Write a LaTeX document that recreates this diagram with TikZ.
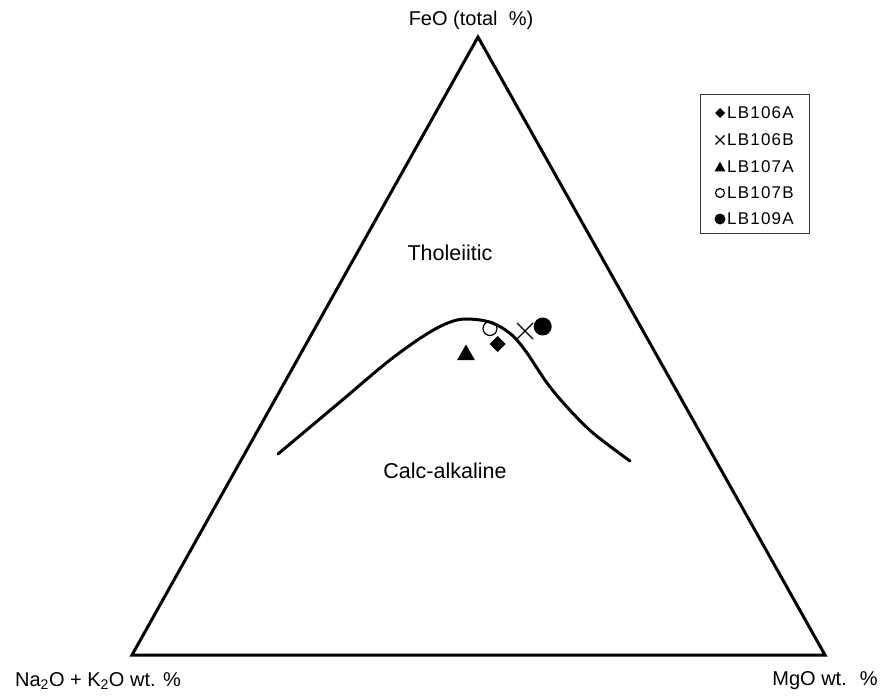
\documentclass[tikz,border=0pt]{standalone}
\usepackage{fontspec}
\setmainfont{Liberation Sans}
\newfontfamily\legfont[LetterSpace=7]{Liberation Sans}
\tikzset{
  axlabel/.style={font=\fontsize{20}{24}\selectfont, inner sep=0pt},
  fieldlabel/.style={font=\fontsize{21.5}{25}\selectfont, inner sep=0pt},
  legtext/.style={font=\legfont\fontsize{17}{20}\selectfont, inner sep=0pt, anchor=west},
  frame/.style={line width=3pt, line join=miter},
  boundary/.style={line width=3pt, line cap=round, line join=round},
  pics/mdiam/.style={code={\fill (-#1,0)--(0,-#1)--(#1,0)--(0,#1)--cycle;}},
  pics/mcross/.style={code={\draw[line width=1.2pt] (-#1,-#1)--(#1,#1) (-#1,#1)--(#1,-#1);}},
  pics/mtri/.style={code={\fill (-#1,0.8*#1)--(#1,0.8*#1)--(0,-0.95*#1)--cycle;}},
  pics/mocirc/.style={code={\draw[line width=1.2pt] (0,0) circle (#1);}},
  pics/mfcirc/.style={code={\fill (0,0) circle (#1);}},
}
\begin{document}
\begin{tikzpicture}[x=1pt,y=-1pt]
\useasboundingbox (0,0) rectangle (881,698);
% triangle
\coordinate (top) at (478,37);
\coordinate (bl) at (132,655);
\coordinate (br) at (825,655);
\draw[frame] (top) -- (br) -- (bl) -- cycle;
% labels
\node[axlabel] (feo) at (471,20) {FeO (total \ \%)};
\node[axlabel] (alk) at (98,681) {Na\textsubscript{2}O + K\textsubscript{2}O wt. \%};
\node[axlabel] (mgo) at (825,681) {MgO wt. \ \%};
\node[fieldlabel] (thol) at (450,253) {Tholeiitic};
\node[fieldlabel] (calc) at (445,471) {Calc-alkaline};
% boundary curve
\draw[boundary] plot[smooth, tension=0.55] coordinates {(278,454) (340,402) (390,360) (430,332) (457,320) (480,320) (497,325) (513,336) (527,353) (547,383) (567,407) (593,433) (630,461)};
% data points
\pic at (490,328.5) {mocirc=7};
\pic at (497.5,344) {mdiam=8};
\pic at (466,353) {mtri=9};
\pic at (525,331) {mcross=8};
\pic at (542.7,326.5) {mfcirc=9};
% legend
\draw[line width=1pt, draw=black!80] (700,95) rectangle (809,233);
\pic at (720,113) {mdiam=5};
\node[legtext] (l1) at (727,113) {LB106A};
\pic at (720,140) {mcross=4.5};
\node[legtext] (l2) at (727,140) {LB106B};
\pic at (720,167) {mtri=5.5};
\node[legtext] (l3) at (727,167) {LB107A};
\pic at (720,193) {mocirc=4.5};
\node[legtext] (l4) at (727,193) {LB107B};
\pic at (720,219) {mfcirc=5.5};
\node[legtext] (l5) at (727,219) {LB109A};
\end{tikzpicture}
\end{document}
